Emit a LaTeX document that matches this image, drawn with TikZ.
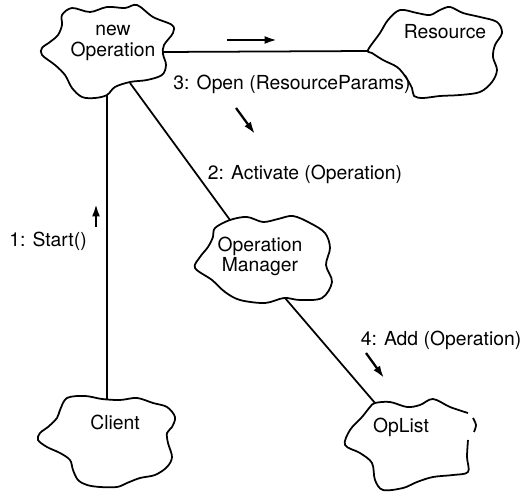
\documentclass[tikz,border=0pt]{standalone}
\usepackage{fontspec}
\setmainfont{TeX Gyre Heros}
\usetikzlibrary{arrows.meta}

% wavy outline round an object node: node, offset, points
\newcommand{\blob}[3]{\draw[blobline,shift={(#1.center)},shift={#2}] plot[smooth cycle,tension=0.55] coordinates {#3};}

\begin{document}
\begin{tikzpicture}[x=0.02cm,y=-0.02cm,
oggetto/.style={align=center,inner sep=1pt,font=\fontsize{11}{11.5}\selectfont},
etich/.style={inner sep=1pt,font=\fontsize{11}{11.5}\selectfont},
blobline/.style={line width=1pt,line join=round},
link/.style={line width=1pt},
verso/.style={-{Latex[length=7pt,width=4.5pt]},line width=1.3pt}
]
\useasboundingbox (0,0) rectangle (525,493);
%-- oggetti
\node[oggetto](newop) at (113,43){new\\Operation};
\blob{newop}{(-6,8)}{(-45,-36) (-35,-43) (-17,-39) (0,-44) (18,-43) (30,-46) (46,-34) (65,-26) (66,-18) (57,-6) (56,3) (59,14) (55,24) (40,29) (23,31) (8,36) (0,44) (-12,47) (-25,46) (-35,37) (-42,24) (-52,14) (-65,4) (-65,-3) (-57,-9) (-49,-16) (-45,-26)}
\node[oggetto](resource) at (445,32){Resource};
\blob{resource}{(-9,22)}{(-68,-4) (-56,-21) (-48,-34) (-36,-44) (-19,-41) (-6,-39) (4,-44) (14,-47) (27,-41) (44,-37) (61,-32) (66,-21) (59,-9) (57,3) (61,16) (56,28) (44,38) (24,41) (4,42) (-13,44) (-22,42) (-24,34) (-31,22) (-39,13) (-53,6) (-64,-1)}
\node[oggetto](opman) at (260,256){Operation\\Manager};
\blob{opman}{(2,2)}{(-32,-38) (-15,-41) (1,-36) (16,-39) (31,-42) (48,-35) (63,-25) (68,-10) (64,7) (70,24) (60,40) (38,42) (22,40) (3,45) (-22,42) (-37,34) (-50,22) (-67,10) (-62,-1) (-54,-11) (-49,-21) (-47,-30)}
\node[oggetto](client) at (115,422){Client};
\blob{client}{(-8,21)}{(-40,-45) (-22,-47) (-5,-44) (13,-43) (30,-45) (46,-40) (60,-36) (68,-26) (65,-16) (60,-10) (61,0) (65,14) (60,24) (48,32) (33,35) (20,40) (10,44) (-7,44) (-20,42) (-29,37) (-34,27) (-37,17) (-47,10) (-60,4) (-69,-3) (-67,-10) (-59,-16) (-50,-25) (-47,-33)}
\node[oggetto](oplist) at (401,427){OpList};
\draw[blobline,shift={(oplist.center)},shift={(9,19)}] plot[smooth,tension=0.55] coordinates {(58,-6) (57,11) (58,26) (43,29) (23,31) (7,36) (-7,42) (-27,44) (-35,34) (-38,17) (-50,7) (-65,-1) (-60,-16) (-48,-29) (-40,-39) (-35,-43) (-20,-44) (-3,-39) (10,-41) (23,-47) (40,-39) (58,-33)};
\draw[blobline,shift={(oplist.center)},shift={(9,19)}] plot[smooth] coordinates {(63,-28) (66,-21) (64,-14)};
%-- collegamenti
\draw[link] ([shift={(50,9)}]newop.center) -- ([shift={(-77,19)}]resource.center);
\draw[link] ([shift={(-6,52)}]newop.center) -- ([shift={(-8,-23)}]client.center);
\draw[link] ([shift={(17,40)}]newop.center) -- ([shift={(-30,-36)}]opman.center);
\draw[link] ([shift={(25,42)}]opman.center) -- ([shift={(-26,-24)}]oplist.center);
%-- messaggi
\node[etich](m1) at (48,241){1: Start()};
\coordinate (p1a) at (96,227); \coordinate (p1b) at (96,204);
\draw[verso] (p1a) -- (p1b);
\node[etich](m2) at (305,174){2: Activate (Operation)};
\coordinate (p2a) at (236,108); \coordinate (p2b) at (255,134);
\draw[verso] (p2a) -- (p2b);
\node[etich](m3) at (292,84){3: Open (ResourceParams)};
\coordinate (p3a) at (227,40); \coordinate (p3b) at (277,40);
\draw[verso] (p3a) -- (p3b);
\node[etich](m4) at (441,340){4: Add (Operation)};
\coordinate (p4a) at (366,353); \coordinate (p4b) at (384,378);
\draw[verso] (p4a) -- (p4b);
\end{tikzpicture}
\end{document}
